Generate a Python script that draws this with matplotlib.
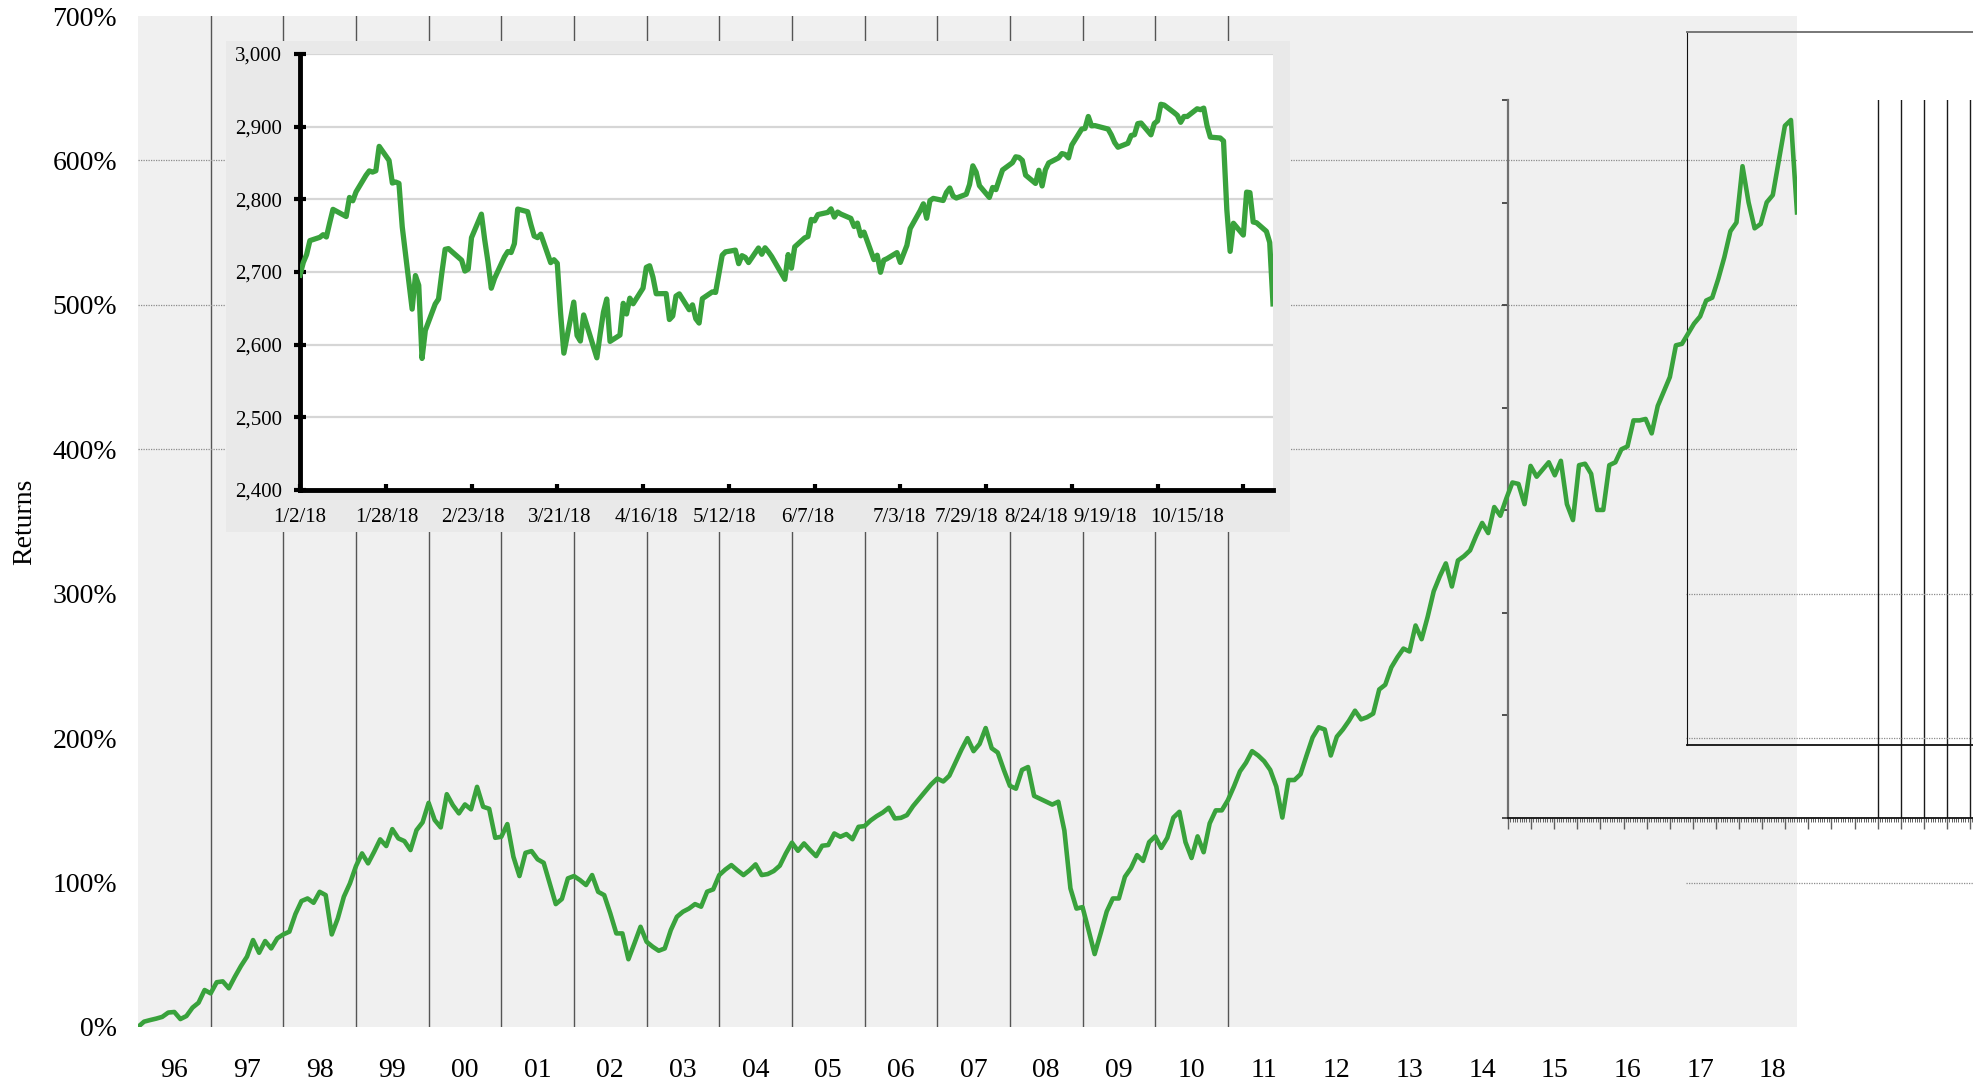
import numpy as np
import pandas as pd
import matplotlib
matplotlib.use('Agg')
import matplotlib.pyplot as plt
import matplotlib.transforms as mtransforms
from matplotlib.patches import Rectangle
from matplotlib.ticker import MultipleLocator, FuncFormatter

plt.rcParams['font.family'] = ['Liberation Serif', 'DejaVu Serif']

# cumulative monthly returns in %, one value per month from Jan 1996
returns_pct = [
    0.0, 3.7, 4.8, 5.8, 7.0, 10.0, 10.4, 5.5, 7.6, 13.4,
    16.8, 25.6, 23.3, 31.0, 31.6, 26.8, 34.8, 42.2, 48.7, 60.2,
    51.4, 59.5, 54.4, 61.4, 64.1, 66.0, 78.2, 87.2, 89.0, 86.0,
    93.6, 91.3, 64.1, 75.2, 90.2, 99.4, 111.4, 120.2, 113.3, 121.3,
    129.9, 125.3, 137.0, 130.6, 128.7, 122.5, 136.3, 141.7, 155.2, 143.3,
    138.2, 161.2, 153.6, 147.9, 154.1, 150.7, 166.3, 152.5, 151.1, 131.0,
    131.7, 140.5, 117.9, 104.5, 120.6, 121.8, 116.1, 113.7, 99.4, 85.1,
    88.6, 102.9, 104.5, 101.7, 98.3, 105.2, 93.6, 91.3, 78.7, 64.8,
    64.8, 46.9, 58.0, 69.4, 59.0, 55.6, 52.8, 54.4, 67.1, 76.3,
    79.8, 82.0, 85.1, 83.3, 93.7, 95.3, 105.2, 109.0, 112.1, 108.5,
    105.2, 108.5, 112.6, 105.2, 105.9, 108.0, 111.7, 120.2, 127.6, 122.0,
    127.1, 122.5, 118.3, 125.5, 126.0, 134.0, 131.7, 133.6, 130.0, 138.6,
    139.1, 143.0, 146.0, 148.5, 151.8, 144.4, 144.8, 146.7, 152.9, 158.0,
    163.0, 168.0, 172.0, 170.0, 174.0, 183.0, 192.0, 200.0, 191.0, 196.0,
    207.0, 193.0, 190.0, 178.0, 167.0, 165.0, 178.0, 180.0, 160.0, 158.0,
    156.0, 154.0, 156.0, 136.0, 96.0, 82.0, 83.0, 67.0, 50.5, 65.0,
    80.0, 89.0, 89.0, 104.0, 110.0, 119.0, 115.0, 128.0, 132.0, 124.0,
    131.0, 145.0, 149.0, 128.0, 117.0, 132.0, 121.0, 141.0, 150.0, 150.0,
    157.0, 166.5, 177.0, 183.0, 191.0, 188.0, 184.0, 178.0, 166.5, 145.0,
    171.0, 171.0, 175.0, 188.0, 200.5, 207.5, 206.0, 188.0, 201.0, 206.0,
    212.0, 219.0, 213.0, 214.5, 217.0, 233.7, 237.0, 249.0, 256.0, 262.0,
    260.0, 278.0, 268.5, 284.0, 301.7, 312.0, 321.0, 305.0, 323.0, 326.0,
    330.0, 340.0, 349.0, 342.0, 360.0, 354.0, 366.0, 377.0, 376.0, 362.0,
    388.5, 381.0, 386.0, 391.0, 382.0, 392.0, 362.0, 351.0, 389.0, 390.0,
    383.0, 358.0, 358.0, 389.0, 391.0, 400.0, 402.0, 420.0, 420.0, 421.0,
    411.0, 430.0, 440.0, 450.0, 472.0, 473.0, 480.0, 487.0, 492.0, 503.0,
    505.0, 518.0, 533.0, 551.0, 557.0, 596.0, 571.0, 553.0, 556.0, 571.0,
    576.0, 600.0, 624.0, 628.0, 564.0,
]
month_dates = pd.date_range('1996-01-01', periods=len(returns_pct), freq='MS')
label_years = list(range(1996, 2019))
year_labels = ['%02d' % (y % 100) for y in label_years]
boundary_years = list(range(1997, 2012))
pct_ticks = list(range(0, 701, 100))

# daily closes for the 2018 inset
spx_close = [
    2695.8, 2713.1, 2724.0, 2743.2, 2747.7, 2751.3, 2748.2, 2767.6, 2786.2, 2776.4,
    2802.6, 2798.0, 2810.3, 2833.0, 2839.1, 2837.5, 2839.3, 2872.9, 2853.5, 2822.4,
    2823.8,
    2822.0, 2762.1, 2648.9, 2695.1, 2681.7, 2581.0, 2619.6, 2656.0, 2662.9, 2698.6,
    2731.2, 2732.2, 2716.3, 2701.3, 2704.0, 2747.3, 2779.6, 2744.3, 2713.8,
    2677.7, 2691.3, 2720.9, 2728.1, 2726.8, 2739.0, 2786.6, 2783.0, 2765.3, 2749.5,
    2747.3, 2752.0, 2712.9, 2716.9, 2711.9, 2643.7, 2588.3, 2658.6, 2612.6, 2605.0,
    2640.9,
    2581.9, 2614.5, 2644.7, 2662.8, 2604.5, 2613.2, 2656.9, 2642.2, 2664.0, 2656.3,
    2677.8, 2706.4, 2708.6, 2693.1, 2670.1, 2670.3, 2634.6, 2639.4, 2666.9, 2669.9,
    2648.1,
    2654.8, 2635.7, 2629.7, 2663.4, 2672.6, 2671.9, 2697.8, 2723.1, 2727.7, 2730.1,
    2711.5, 2722.5, 2720.1, 2713.0, 2733.0, 2724.4, 2733.3, 2727.8, 2721.3, 2689.9,
    2724.0, 2705.3,
    2734.6, 2746.9, 2748.8, 2772.4, 2770.4, 2779.0, 2782.0, 2786.9, 2775.6, 2782.5,
    2779.7, 2773.8, 2762.6, 2767.3, 2749.8, 2754.9, 2717.1, 2723.1, 2699.6, 2716.3,
    2718.4,
    2726.7, 2713.2, 2736.6, 2759.8, 2784.2, 2793.8, 2774.0, 2798.3, 2801.3, 2798.4,
    2809.6, 2815.6, 2804.5, 2801.8, 2807.0, 2820.4, 2846.1, 2837.4, 2818.8, 2802.6,
    2816.3,
    2813.4, 2827.2, 2840.4, 2850.4, 2858.5, 2857.7, 2853.6, 2833.3, 2821.9, 2840.0,
    2818.4, 2840.7, 2850.1, 2857.1, 2863.0, 2861.8, 2857.0, 2874.7, 2896.7, 2897.5,
    2914.0, 2901.1, 2901.5,
    2896.7, 2888.6, 2878.1, 2871.7, 2877.1, 2887.9, 2888.9, 2904.2, 2905.0, 2888.8,
    2904.3, 2908.0, 2930.8, 2929.7, 2919.4, 2915.6, 2906.0, 2914.0, 2914.0,
    2924.6, 2923.4, 2925.5, 2901.6, 2885.6, 2884.4, 2880.3, 2785.7, 2728.4, 2767.1,
    2750.8, 2809.9, 2809.2, 2768.8, 2767.8, 2755.9, 2740.7, 2656.1,
]
holidays_2018 = ['2018-01-15', '2018-02-19', '2018-03-30', '2018-05-28',
                 '2018-07-04', '2018-09-03']
spx_dates = pd.bdate_range('2018-01-02', '2018-10-24', freq='C', holidays=holidays_2018)
inset_ticks = pd.date_range('2018-01-02', periods=12, freq='26D')
inset_labels = ['%d/%d/18' % (d.month, d.day) for d in inset_ticks]
close_ticks = list(range(2400, 3001, 100))

green = '#39a23c'
W, H = 1973, 1083


def box(x0, y0, x1, y1):
    # pixel box (top-left origin) -> figure fraction rect
    return [x0 / W, 1 - y1 / H, (x1 - x0) / W, (y1 - y0) / H]


fig = plt.figure(figsize=(W / 100, H / 100), dpi=100)

# main chart
ax = fig.add_axes(box(138, 16, 1797, 1027), zorder=0)
ax.set_facecolor('#f0f0f0')
for s in ax.spines.values():
    s.set_visible(False)
x = month_dates.year + (month_dates.month - 1) / 12
ax.set_xlim(x[0], x[-1])
ax.set_ylim(0, 700)
ax.set_yticks(pct_ticks)
ax.set_yticklabels(['%d%%' % v for v in pct_ticks])
ax.set_xticks(np.array(label_years) + 0.5)
ax.set_xticklabels(year_labels)
ax.set_xticks(boundary_years, minor=True)
ax.tick_params(which='both', length=0, labelsize=20)
ax.tick_params(axis='y', pad=15)
ax.tick_params(axis='x', pad=22)
ax.grid(which='minor', axis='x', color='#555555', lw=1)
for v in pct_ticks[4:7]:
    ax.axhline(v, color='#8c8c8c', lw=0.9, ls=(0, (1, 1)))
ax.set_ylabel('Returns', fontsize=20)
ax.yaxis.set_label_coords(-0.0610, 0.5)

# stray axes on the right
ax3 = fig.add_axes(box(1508, 100, 2000, 818), zorder=0.5)
ax3.patch.set_visible(False)
ax3.set_xlim(0, 492 / 23.1)
ax3.set_ylim(0, 7)
ax3.spines['top'].set_visible(False)
ax3.spines['right'].set_visible(False)
ax3.spines['left'].set_color('#707070')
ax3.spines['left'].set_linewidth(1.6)
ax3.spines['bottom'].set_color('#111111')
ax3.spines['bottom'].set_linewidth(1.3)
ax3.xaxis.set_major_locator(MultipleLocator(1))
ax3.xaxis.set_minor_locator(MultipleLocator(0.1))
ax3.yaxis.set_major_locator(MultipleLocator(1))
ax3.tick_params(axis='x', which='major', length=8, width=1, color='#606060', labelbottom=False)
ax3.tick_params(axis='x', which='minor', length=3, width=0.7, color='#606060')
ax3.tick_params(axis='y', length=4, width=1.2, color='#333333', labelleft=False)
for k in range(16, 22):
    ax3.axvline(k, color='#1a1a1a', lw=1)

ax4 = fig.add_axes(box(1686, 16, 2000, 1027), zorder=0.5)
ax4.patch.set_visible(False)
ax4.axis('off')
ax4.set_ylim(0, 700)
for v in pct_ticks[1:4]:
    ax4.axhline(v, color='#8c8c8c', lw=0.9, ls=(0, (1, 1)))

ax5 = fig.add_axes(box(1687, 32, 2000, 745), zorder=0.5)
ax5.patch.set_visible(False)
ax5.set_xticks([])
ax5.set_yticks([])
ax5.spines['right'].set_visible(False)
ax5.spines['top'].set_color('#777777')
ax5.spines['top'].set_linewidth(1.4)
ax5.spines['left'].set_color('#111111')
ax5.spines['bottom'].set_color('#111111')
ax5.spines['bottom'].set_linewidth(1.3)

# the return line on top of everything in the main area
axl = fig.add_axes(box(138, 16, 1797, 1027), sharex=ax, sharey=ax, zorder=1)
axl.patch.set_visible(False)
axl.axis('off')
axl.plot(x, returns_pct, color=green, lw=3.3)

# inset with 2018 closes
fig.add_artist(Rectangle((226 / W, 1 - 532 / H), (1290 - 226) / W, (532 - 41) / H,
                         transform=fig.transFigure, facecolor='#e9e9e9',
                         edgecolor='none', zorder=1.5))
axi = fig.add_axes(box(300, 54, 1273, 490), zorder=2)
axi.set_facecolor('white')
axi.plot(spx_dates, spx_close, color=green, lw=3.8, zorder=3)
axi.set_xlim(spx_dates[0], spx_dates[-1])
axi.set_ylim(2400, 3000)
axi.set_yticks(close_ticks)
axi.yaxis.set_major_formatter(FuncFormatter(lambda v, p: '{:,.0f}'.format(v)))
axi.grid(axis='y', color='#d6d6d6', lw=1.6)
axi.set_axisbelow(True)
axi.spines['top'].set_visible(False)
axi.spines['right'].set_visible(False)
axi.spines['left'].set_linewidth(3.5)
axi.spines['bottom'].set_linewidth(3.5)
axi.set_xticks(inset_ticks)
axi.set_xticklabels(inset_labels)
axi.tick_params(axis='y', direction='inout', length=8, width=3, pad=9.2, labelsize=15)
axi.tick_params(axis='x', direction='in', length=4, width=3, pad=13, labelsize=15)
# labels crowd to the left at the end of the axis
label_shift_px = [0, 1, 1, 2, 3, -4, -7, -1, -20, -36, -52, -56]
for lab, dx in zip(axi.get_xticklabels(), label_shift_px):
    off = mtransforms.ScaledTranslation(dx / 100, 0, fig.dpi_scale_trans)
    lab.set_transform(lab.get_transform() + off)

fig.savefig('out.png', dpi=100)
